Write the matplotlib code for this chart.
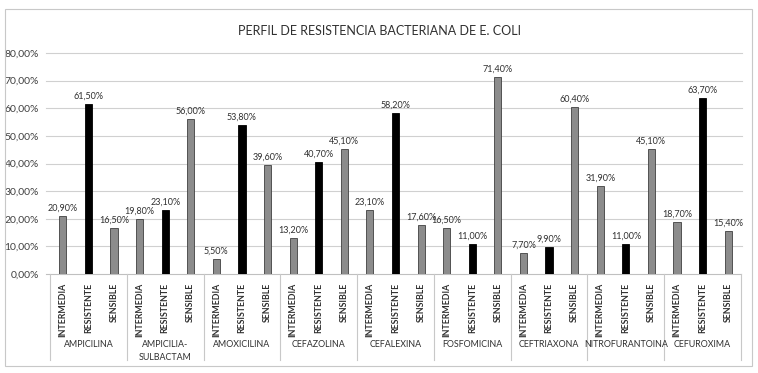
import numpy as np
import matplotlib.pyplot as plt
from matplotlib.patches import Rectangle

plt.rcParams['font.family'] = ['Lato', 'DejaVu Sans']

# datos
antibioticos = ['AMPICILINA', 'AMPICILIA-\nSULBACTAM', 'AMOXICILINA', 'CEFAZOLINA', 'CEFALEXINA',
                'FOSFOMICINA', 'CEFTRIAXONA', 'NITROFURANTOINA', 'CEFUROXIMA']
categorias = ['INTERMEDIA', 'RESISTENTE', 'SENSIBLE']
intermedia = [20.9, 19.8, 5.5, 13.2, 23.1, 16.5, 7.7, 31.9, 18.7]
resistente = [61.5, 23.1, 53.8, 40.7, 58.2, 11.0, 9.9, 11.0, 63.7]
sensible = [16.5, 56.0, 39.6, 45.1, 17.6, 71.4, 60.4, 45.1, 15.4]

series = [intermedia, resistente, sensible]
colores = ['#8c8c8c', '#000000', '#8c8c8c']

fig = plt.figure(figsize=(7.58, 3.73), dpi=100)
ax = fig.add_axes([50/758, 1-274/373, 691/758, 221/373])

# borde exterior del grafico
fig.patches.append(Rectangle((5/758, 7/373), 747/758, 357/373, transform=fig.transFigure,
                             fill=False, edgecolor='#c8c8c8', linewidth=0.8))

n = len(antibioticos)
for j, (vals, col) in enumerate(zip(series, colores)):
    x = np.arange(n) * 3 + j + 0.5
    y = np.array(vals) / 100
    ax.bar(x, y, width=0.28, color=col, edgecolor='#404040' if j != 1 else 'black',
           linewidth=0.6, zorder=3)
    for xi, yi in zip(x, y):
        ax.text(xi, yi + 0.012, f'{yi*100:.2f}%'.replace('.', ','), ha='center', va='bottom',
                fontsize=6.5, color='#303030')

ax.set_xlim(0, 3 * n)
ax.set_ylim(0, 0.8)
ax.set_yticks(np.arange(0, 0.81, 0.1))
ax.set_yticklabels([f'{v*100:.2f}%'.replace('.', ',') for v in np.arange(0, 0.81, 0.1)],
                   fontsize=7.5, color='#404040')
ax.tick_params(axis='y', length=0, pad=8)
ax.tick_params(axis='x', length=0)
ax.set_xticks([])
for v in np.arange(0.1, 0.81, 0.1):
    ax.plot([-0.15, 3 * n + 0.05], [v, v], color='#d0d0d0', linewidth=0.8, clip_on=False, zorder=1)
ax.plot([-0.15, 3 * n], [0, 0], color='#c0c0c0', linewidth=0.8, clip_on=False, zorder=2)
for s in ax.spines.values():
    s.set_visible(False)

# etiquetas de categorias y grupos
trans = ax.get_xaxis_transform()
for g in range(n):
    for j, c in enumerate(categorias):
        ax.text(g * 3 + j + 0.5, -0.04, c, rotation=90, ha='center', va='top', fontsize=6.3,
                fontweight='bold', color='#303030', transform=trans)
    ax.text(g * 3 + 1.5, -0.3, antibioticos[g], ha='center', va='top', fontsize=6.4,
            color='#303030', transform=trans, linespacing=1.6, multialignment='center')
for g in range(n + 1):
    ax.plot([g * 3, g * 3], [0, -0.39], color='#c8c8c8', linewidth=0.8, transform=trans, clip_on=False)

fig.text(380/758, 1-31/373, 'PERFIL DE RESISTENCIA BACTERIANA DE E. COLI', ha='center', va='center',
         fontsize=9, color='#303030')

fig.savefig('out.png', dpi=100)
